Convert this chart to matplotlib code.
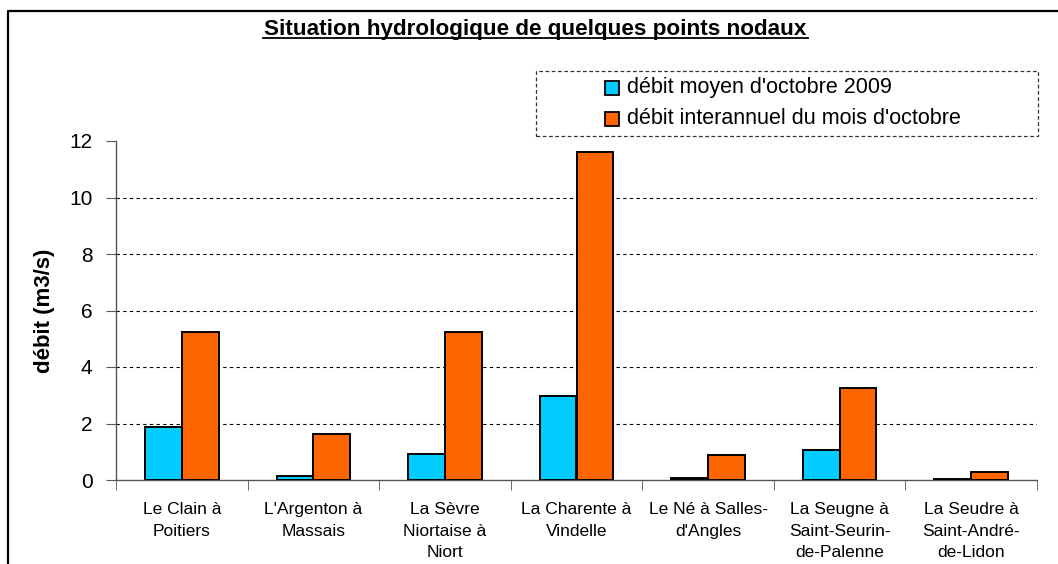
import numpy as np
import matplotlib.pyplot as plt
from matplotlib.patches import Rectangle
from matplotlib.lines import Line2D

plt.rcParams['font.family'] = ['Liberation Sans', 'DejaVu Sans']

# data
stations = ["Le Clain à\nPoitiers", "L'Argenton à\nMassais", "La Sèvre\nNiortaise à\nNiort",
            "La Charente à\nVindelle", "Le Né à Salles-\nd'Angles", "La Seugne à\nSaint-Seurin-\nde-Palenne",
            "La Seudre à\nSaint-André-\nde-Lidon"]
debit_2009 = [1.88, 0.14, 0.93, 2.98, 0.08, 1.06, 0.05]
debit_interannuel = [5.24, 1.62, 5.24, 11.6, 0.9, 3.26, 0.28]
label_2009 = "débit moyen d'octobre 2009"
label_inter = "débit interannuel du mois d'octobre"

W, H = 1058, 564
fig = plt.figure(figsize=(W / 100, H / 100), dpi=100)
ax = fig.add_axes([116 / W, 1 - 480 / H, (1037 - 116) / W, (480 - 141) / H])

x = np.arange(len(stations))
bw = 0.28
ax.bar(x - bw / 2, debit_2009, bw, color='#00CCFF', edgecolor='black', linewidth=1.4, zorder=3)
ax.bar(x + bw / 2, debit_interannuel, bw, color='#FF6600', edgecolor='black', linewidth=1.4, zorder=3)

ax.set_xlim(-0.5, len(stations) - 0.5)
ax.set_ylim(0, 12)
ax.set_yticks(np.arange(0, 13, 2))
ax.tick_params(axis='y', labelsize=15, length=7, color='#555555', pad=10)
for yv in range(2, 12, 2):
    ax.axhline(yv, color='black', linewidth=0.8, linestyle=(0, (3, 3)), zorder=1)

ax.set_xticks(x)
ax.set_xticklabels(stations, fontsize=12.5, linespacing=1.55, va='top')
ax.tick_params(axis='x', length=0, pad=16)
ax.set_xticks(np.arange(-0.5, len(stations)), minor=True)
ax.tick_params(axis='x', which='minor', length=7, color='#555555')

for s in ['top', 'right']:
    ax.spines[s].set_visible(False)
for s in ['left', 'bottom']:
    ax.spines[s].set_color('#555555')
    ax.spines[s].set_linewidth(1.0)

ax.set_ylabel('débit (m3/s)', fontsize=16, fontweight='bold')
ax.yaxis.set_label_coords((55 - 116) / (1037 - 116), 0.5)

fig.text(535 / W, 1 - 29 / H, 'Situation hydrologique de quelques points nodaux',
         ha='center', va='center', fontsize=16.2, fontweight='bold')
fig.add_artist(Line2D([263 / W, 808 / W], [1 - 38 / H, 1 - 38 / H], color='black', linewidth=1.3))

# outer chart frame (cut by the image edge)
fig.add_artist(Line2D([8 / W, 8 / W, 1.01], [-0.01, 1 - 11 / H, 1 - 11 / H], color='black', linewidth=1.6))

# legend box
fig.add_artist(Rectangle((536 / W, 1 - 136 / H), (1038 - 536) / W, (136 - 71) / H,
                         transform=fig.transFigure, fill=False, edgecolor='#333333',
                         linewidth=0.9, linestyle=(0, (3, 2))))
for row, (lab, col) in enumerate([(label_2009, '#00CCFF'), (label_inter, '#FF6600')]):
    yc = 88 + row * 31
    fig.add_artist(Rectangle((605 / W, 1 - (yc + 7) / H), 14 / W, 14 / H,
                             transform=fig.transFigure, facecolor=col, edgecolor='black', linewidth=1.3))
    fig.text(627 / W, 1 - yc / H, lab, ha='left', va='center', fontsize=15.5)

fig.savefig('out.png', dpi=100)
